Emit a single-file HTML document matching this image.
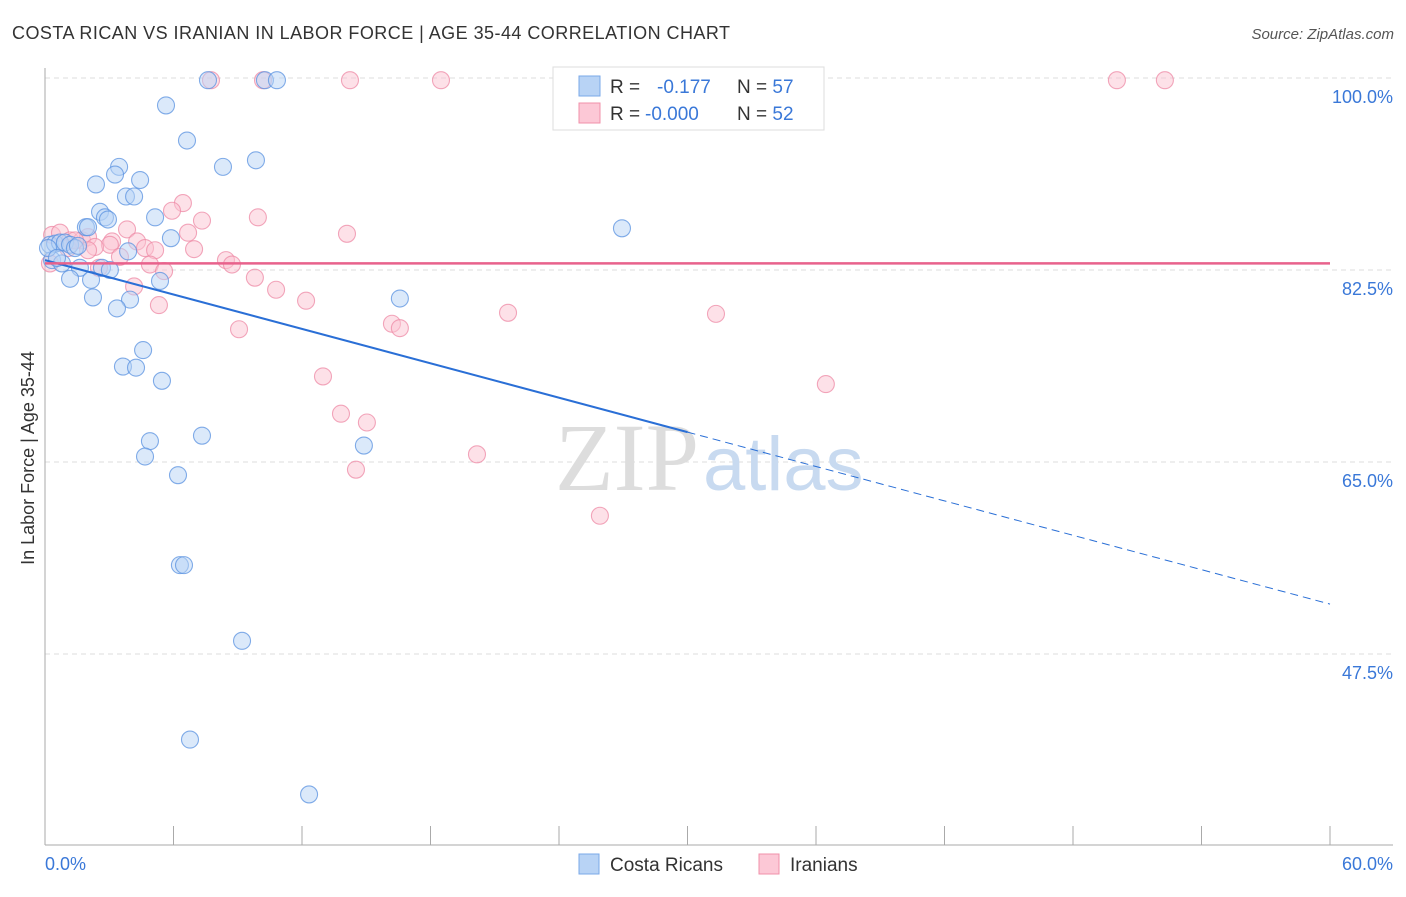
<!DOCTYPE html>
<html><head><meta charset="utf-8"><style>
body{margin:0;background:#fff;font-family:"Liberation Sans",sans-serif}
</style></head><body>
<svg width="1406" height="892" xmlns="http://www.w3.org/2000/svg" font-family="Liberation Sans, sans-serif">
<text x="12" y="39" font-size="18" fill="#333" textLength="718">COSTA RICAN VS IRANIAN IN LABOR FORCE | AGE 35-44 CORRELATION CHART</text>
<text x="1394" y="39" font-size="15" fill="#555" text-anchor="end" font-style="italic">Source: ZipAtlas.com</text>
<g id="grid"></g>
<text x="555" y="490" font-size="96" fill="#ddd" font-family="Liberation Serif, serif">ZIP<tspan dx="4" fill="#c8daf0" font-family="Liberation Sans, sans-serif" font-size="76">atlas</tspan></text>
<line x1="45" y1="68" x2="45" y2="845" stroke="#aaa"/>
<line x1="45" y1="845" x2="1393" y2="845" stroke="#aaa"/>
<g id="ticks"></g>
<g id="pts"></g>
<g id="trends"></g>
<text x="34" y="458" font-size="18" fill="#333" text-anchor="middle" transform="rotate(-90 34 458)">In Labor Force | Age 35-44</text>
<text x="45" y="870" font-size="18" fill="#3a78d8">0.0%</text>
<text x="1393" y="870" font-size="18" fill="#3a78d8" text-anchor="end">60.0%</text>
<g>
<rect x="553" y="67" width="271" height="63" fill="#fff" stroke="#ddd"/>
<rect x="579" y="76" width="21" height="20" fill="#b8d3f5" stroke="#7aa8e8"/>
<rect x="579" y="103" width="21" height="20" fill="#fcc8d6" stroke="#f090aa"/>
<text x="610" y="93" font-size="19" fill="#333">R = <tspan x="657" fill="#3a78d8">-0.177</tspan><tspan x="737" fill="#333">N = </tspan><tspan fill="#3a78d8">57</tspan></text>
<text x="610" y="120" font-size="19" fill="#333">R = <tspan x="645" fill="#3a78d8">-0.000</tspan><tspan x="737" fill="#333">N = </tspan><tspan fill="#3a78d8">52</tspan></text>
</g>
<g>
<rect x="579" y="854" width="20" height="20" fill="#b8d3f5" stroke="#7aa8e8"/>
<text x="610" y="871" font-size="19" fill="#333">Costa Ricans</text>
<rect x="759" y="854" width="20" height="20" fill="#fcc8d6" stroke="#f090aa"/>
<text x="790" y="871" font-size="19" fill="#333">Iranians</text>
</g>
</svg>
<script>
const yTicks=[100,82.5,65,47.5];
const yTickLabels=["100.0%","82.5%","65.0%","47.5%"];
const xTicks=[0,6,12,18,24,30,36,42,48,54,60];
const blueX=[7.61,10.27,10.83,5.65,6.63,8.31,9.85,3.46,3.27,4.44,2.38,3.78,4.16,2.57,2.80,2.94,5.14,1.91,2.01,5.88,26.94,0.23,0.47,0.70,0.93,1.17,1.40,3.88,0.33,0.79,1.63,2.66,3.03,1.17,2.15,5.37,2.24,16.57,3.97,3.36,4.58,3.64,4.25,5.46,7.33,4.90,4.67,14.89,6.21,6.30,6.49,9.20,6.77,12.33,0.14,1.54,0.56];
const blueY=[99.8,99.8,99.8,97.5,94.3,91.9,92.5,91.9,91.2,90.7,90.3,89.2,89.2,87.8,87.3,87.1,87.3,86.4,86.4,85.4,86.3,84.8,84.9,85.0,85.0,84.8,84.5,84.2,83.4,83.1,82.7,82.7,82.5,81.7,81.6,81.5,80.0,79.9,79.8,79.0,75.2,73.7,73.6,72.4,67.4,66.9,65.5,66.5,63.8,55.6,55.6,48.7,39.7,34.7,84.5,84.7,83.6];
const pinkX=[7.75,10.18,14.24,18.49,50.05,52.29,6.44,5.93,9.94,7.33,6.68,14.10,3.83,0.33,0.70,1.17,1.73,2.01,3.13,4.30,4.67,5.14,6.96,3.03,2.33,1.07,3.50,4.90,8.45,8.73,5.56,2.52,9.80,10.79,4.16,12.19,21.62,31.33,5.32,16.20,16.57,9.06,12.98,36.46,13.82,15.03,20.17,14.52,25.91,0.23,2.01,1.40];
const pinkY=[99.8,99.8,99.8,99.8,99.8,99.8,88.6,87.9,87.3,87.0,85.9,85.8,86.2,85.7,85.9,85.2,85.2,85.5,85.1,85.1,84.5,84.3,84.4,84.8,84.6,84.5,83.7,83.0,83.4,83.0,82.4,82.7,81.8,80.7,81.0,79.7,78.6,78.5,79.3,77.6,77.2,77.1,72.8,72.1,69.4,68.6,65.7,64.3,60.1,83.1,84.3,85.2];
const blueTrend=[83.4,52.05];
const pinkTrend=[83.1,83.1];
const NS="http://www.w3.org/2000/svg";
const X=v=>45+v/60*1285, Y=v=>78+(100-v)/17.5*192;
function mk(t,a,p){const e=document.createElementNS(NS,t);for(const k in a)e.setAttribute(k,a[k]);p.appendChild(e);return e;}
const grid=document.getElementById('grid');
yTicks.forEach((v,i)=>{
 const l=mk('line',{x1:45,x2:1393,y1:Y(v),y2:Y(v),stroke:'#ddd','stroke-dasharray':'5,4'},grid);
 
 
 const t=mk('text',{x:1393,y:Y(v)+25,'font-size':18,fill:'#3a78d8','text-anchor':'end'},grid);
 t.textContent=yTickLabels[i];
 
 
});
const ticks=document.getElementById('ticks');
xTicks.forEach(v=>{
 const l=mk('line',{x1:X(v),x2:X(v),y1:826,y2:845,stroke:'#aaa'},ticks);
 
 
});
const pts=document.getElementById('pts');
function dots(xs,ys,fill,stroke,name){xs.forEach((x,i)=>{
 const c=mk('circle',{cx:X(x),cy:Y(ys[i]),r:8.5,fill:fill,'fill-opacity':0.5,stroke:stroke,'stroke-width':1.1,'stroke-opacity':0.75},pts);
 
 
});}
dots(pinkX,pinkY,'#fbc3d2','#ee8aa6','iranian-point');
dots(blueX,blueY,'#b8d3f5','#5a92e0','costa-rican-point');
const tr=document.getElementById('trends');
const bm=blueTrend[0]+(blueTrend[1]-blueTrend[0])*(30/60);
const b1=mk('line',{x1:X(0),y1:Y(blueTrend[0]),x2:X(30),y2:Y(bm),stroke:'#2a6fd6','stroke-width':2},tr);


const b2=mk('line',{x1:X(30),y1:Y(bm),x2:X(60),y2:Y(blueTrend[1]),stroke:'#2a6fd6','stroke-width':1,'stroke-dasharray':'8,5'},tr);


const p1=mk('line',{x1:X(0),y1:Y(pinkTrend[0]),x2:X(60),y2:Y(pinkTrend[1]),stroke:'#e8628c','stroke-width':2.5},tr);


</script>
</body></html>
